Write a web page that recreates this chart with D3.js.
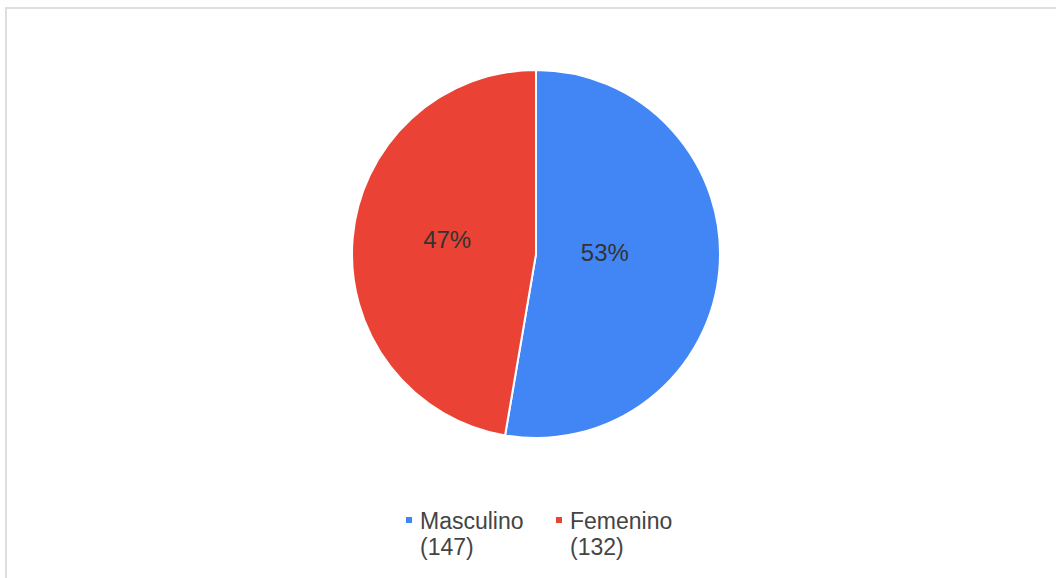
<!DOCTYPE html>
<html>
<head>
<meta charset="utf-8">
<script src="https://cdn.jsdelivr.net/npm/d3@7"></script>
<style>
  html, body { margin: 0; padding: 0; background: #fff; }
  svg { display: block; }
</style>
</head>
<body>
<svg id="chart" width="1056" height="578"></svg>
<script>
// Gender distribution
const categories = ["Masculino", "Femenino"];
const counts = [147, 132];
const colors = ["#4285F4", "#EA4335"];

const width = 1056, height = 578;
const svg = d3.select("#chart");

// Light frame along the top and left edges
svg.append("path")
  .attr("d", `M6,${height} V8 H${width}`)
  .attr("fill", "none")
  .attr("stroke", "#dedede")
  .attr("stroke-width", 2);

const cx = 536, cy = 254, radius = 184;
const total = d3.sum(counts);
const data = categories.map((c, i) => ({ name: c, value: counts[i], color: colors[i] }));

const pie = d3.pie().value(d => d.value).sort(null);
const arcs = pie(data);
const arc = d3.arc().innerRadius(0).outerRadius(radius);
const labelArc = d3.arc().innerRadius(radius * 0.43).outerRadius(radius * 0.43);

const g = svg.append("g").attr("transform", `translate(${cx},${cy})`);

g.selectAll("path.slice")
  .data(arcs)
  .enter().append("path")
  .attr("class", "slice")
  .attr("d", arc)
  .attr("fill", d => d.data.color)
  .attr("stroke", "#fff")
  .attr("stroke-width", 2);

// Percentage labels, nudged slightly up and left of the slice centroid
g.selectAll("text.pct")
  .data(arcs)
  .enter().append("text")
  .attr("class", "pct")
  .attr("transform", d => {
    const [x, y] = labelArc.centroid(d);
    return `translate(${x - 10},${y - 8})`;
  })
  .attr("text-anchor", "middle")
  .attr("dominant-baseline", "central")
  .attr("font-family", "Arial, 'Liberation Sans', sans-serif")
  .attr("font-size", 24)
  .attr("fill", "#333")
  .text(d => Math.round(d.data.value / total * 100) + "%");

// Legend below the pie
const legendX = d3.scalePoint().domain(categories).range([406, 556]);
const legend = svg.append("g").attr("font-family", "Arial, 'Liberation Sans', sans-serif")
  .attr("font-size", 23).attr("fill", "#444");

const item = legend.selectAll("g.item")
  .data(data)
  .enter().append("g")
  .attr("class", "item")
  .attr("transform", d => `translate(${legendX(d.name)},0)`);

item.append("rect")
  .attr("x", 0).attr("y", 517)
  .attr("width", 6).attr("height", 6)
  .attr("fill", d => d.color);

item.append("text")
  .attr("x", 14).attr("y", 529)
  .text(d => d.name);

item.append("text")
  .attr("x", 14).attr("y", 555)
  .text(d => `(${d.value})`);
</script>
</body>
</html>
